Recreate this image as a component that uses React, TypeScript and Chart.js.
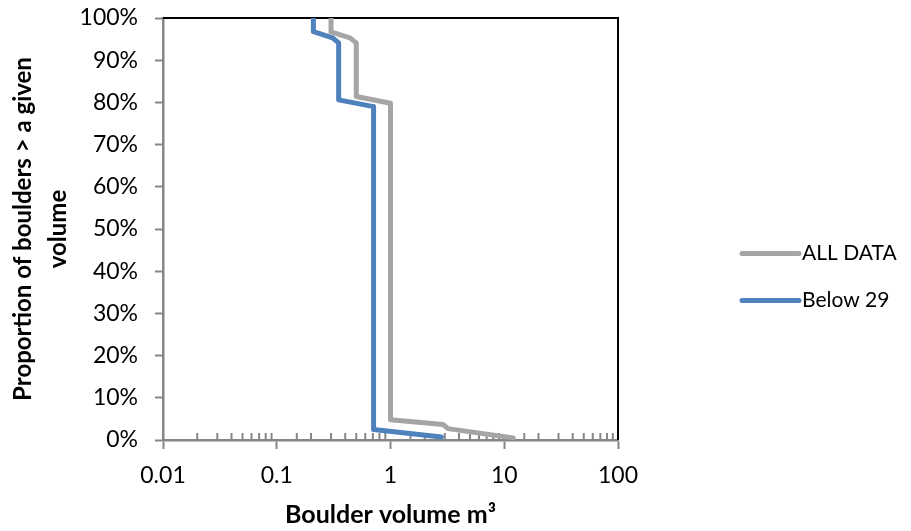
import React, { useEffect, useRef } from 'react';
import { Chart, registerables } from 'chart.js';

Chart.register(...registerables);

const seriesNames = ['ALL DATA', 'Below 29'];
const seriesColors = ['#A5A5A5', '#4F81BD'];

const allDataVolume = [0.30, 0.30, 0.44, 0.50, 0.50, 1.0, 1.0, 2.9, 3.2, 12];
const allDataProportion = [1.0, 0.967, 0.953, 0.941, 0.814, 0.798, 0.048, 0.037, 0.027, 0.005];

const below29Volume = [0.21, 0.21, 0.31, 0.35, 0.35, 0.71, 0.71, 2.8];
const below29Proportion = [1.0, 0.968, 0.953, 0.941, 0.806, 0.79, 0.025, 0.007];

const xTickLabels = ['0.01', '0.1', '1', '10', '100'];
const yTickLabels = ['0%', '10%', '20%', '30%', '40%', '50%', '60%', '70%', '80%', '90%', '100%'];

const xTitle = 'Boulder volume m³';
const yTitle = ['Proportion of boulders > a given', 'volume'];

const FONT = 'Lato, "Open Sans", sans-serif';
const AXIS_GREY = '#868686';

const isDecade = (v: number) => {
  const lg = Math.log10(v);
  return Math.abs(lg - Math.round(lg)) < 1e-6;
};

const framePlugin = {
  id: 'frameAndMinorTicks',
  beforeDatasetsDraw(chart: any) {
    const { ctx, chartArea: a } = chart;
    ctx.save();
    ctx.strokeStyle = '#000';
    ctx.lineWidth = 2;
    ctx.beginPath();
    ctx.moveTo(a.left, a.top);
    ctx.lineTo(a.right, a.top);
    ctx.lineTo(a.right, a.bottom);
    ctx.stroke();
    const xs = chart.scales.x;
    ctx.strokeStyle = AXIS_GREY;
    ctx.lineWidth = 2;
    ctx.beginPath();
    xs.ticks.forEach((t: any) => {
      if (!isDecade(t.value)) {
        const px = xs.getPixelForValue(t.value);
        ctx.moveTo(px, a.bottom);
        ctx.lineTo(px, a.bottom - 7);
      }
    });
    ctx.stroke();
    ctx.restore();
  },
};

const sideLegendPlugin = {
  id: 'sideLegend',
  afterDraw(chart: any) {
    const { ctx, chartArea: a } = chart;
    const x0 = a.right + 124;
    const lineLen = 57;
    const cy = (a.top + a.bottom) / 2 + 48;
    ctx.save();
    chart.data.datasets.forEach((ds: any, i: number) => {
      const y = cy + (i - 0.5) * 47;
      ctx.strokeStyle = ds.borderColor;
      ctx.lineWidth = 5;
      ctx.lineCap = 'round';
      ctx.beginPath();
      ctx.moveTo(x0, y);
      ctx.lineTo(x0 + lineLen, y);
      ctx.stroke();
      ctx.fillStyle = '#000';
      ctx.font = `21px ${FONT}`;
      ctx.textBaseline = 'middle';
      ctx.textAlign = 'left';
      ctx.fillText(ds.label, x0 + lineLen + 3, y);
    });
    ctx.restore();
  },
};

export default function App() {
  const canvasRef = useRef<HTMLCanvasElement | null>(null);

  useEffect(() => {
    const canvas = canvasRef.current;
    if (!canvas) return;
    const toPoints = (xs: number[], ys: number[]) => xs.map((x, i) => ({ x, y: ys[i] }));
    const chart = new Chart(canvas, {
      type: 'line',
      data: {
        datasets: [
          {
            label: seriesNames[0],
            data: toPoints(allDataVolume, allDataProportion),
            borderColor: seriesColors[0],
            backgroundColor: seriesColors[0],
            borderWidth: 5,
            pointRadius: 0,
            tension: 0,
            borderJoinStyle: 'round',
            borderCapStyle: 'round',
          },
          {
            label: seriesNames[1],
            data: toPoints(below29Volume, below29Proportion),
            borderColor: seriesColors[1],
            backgroundColor: seriesColors[1],
            borderWidth: 5,
            pointRadius: 0,
            tension: 0,
            borderJoinStyle: 'round',
            borderCapStyle: 'round',
          },
        ],
      },
      options: {
        responsive: false,
        animation: false,
        layout: { padding: { left: 0, top: 18, right: 293, bottom: 0 } },
        plugins: {
          legend: { display: false },
          tooltip: { enabled: false },
        },
        scales: {
          x: {
            type: 'logarithmic',
            min: 0.01,
            max: 100,
            afterFit: (s: any) => {
              s.height = 91;
              s.paddingLeft = 0;
              s.paddingRight = 0;
            },
            border: { color: AXIS_GREY, width: 2.5 },
            grid: {
              drawOnChartArea: false,
              drawTicks: true,
              tickLength: 9,
              tickWidth: 2,
              tickColor: (c: any) => (c.tick && isDecade(c.tick.value) ? AXIS_GREY : 'rgba(0,0,0,0)'),
            },
            ticks: {
              autoSkip: false,
              maxRotation: 0,
              padding: 13,
              color: '#000',
              font: { family: FONT, size: 23 },
              callback: (v: any) =>
                isDecade(Number(v)) ? xTickLabels[Math.round(Math.log10(Number(v))) + 2] : '',
            },
            title: {
              display: true,
              text: xTitle,
              color: '#000',
              font: { family: FONT, size: 25, weight: 'bold' },
              padding: { top: 0, bottom: 1 },
            },
          },
          y: {
            type: 'linear',
            min: 0,
            max: 1,
            afterFit: (s: any) => {
              s.width = 163;
              s.paddingTop = 0;
              s.paddingBottom = 0;
            },
            border: { color: AXIS_GREY, width: 2.5 },
            grid: {
              drawOnChartArea: false,
              drawTicks: true,
              tickLength: 8,
              tickWidth: 2,
              tickColor: AXIS_GREY,
            },
            ticks: {
              stepSize: 0.1,
              padding: 17,
              color: '#000',
              font: { family: FONT, size: 23 },
              callback: (_v: any, i: number) => yTickLabels[i],
            },
            title: {
              display: true,
              text: yTitle,
              color: '#000',
              font: { family: FONT, size: 24, weight: 'bold', lineHeight: '35px' },
              padding: { top: 6, bottom: 0 },
            },
          },
        },
      },
      plugins: [framePlugin, sideLegendPlugin],
    } as any);
    return () => chart.destroy();
  }, []);

  return (
    <div style={{ position: 'fixed', left: 0, top: 0, width: 911, height: 531, background: '#fff' }}>
      <canvas ref={canvasRef} width={911} height={531} style={{ width: 911, height: 531, display: 'block' }} />
    </div>
  );
}
